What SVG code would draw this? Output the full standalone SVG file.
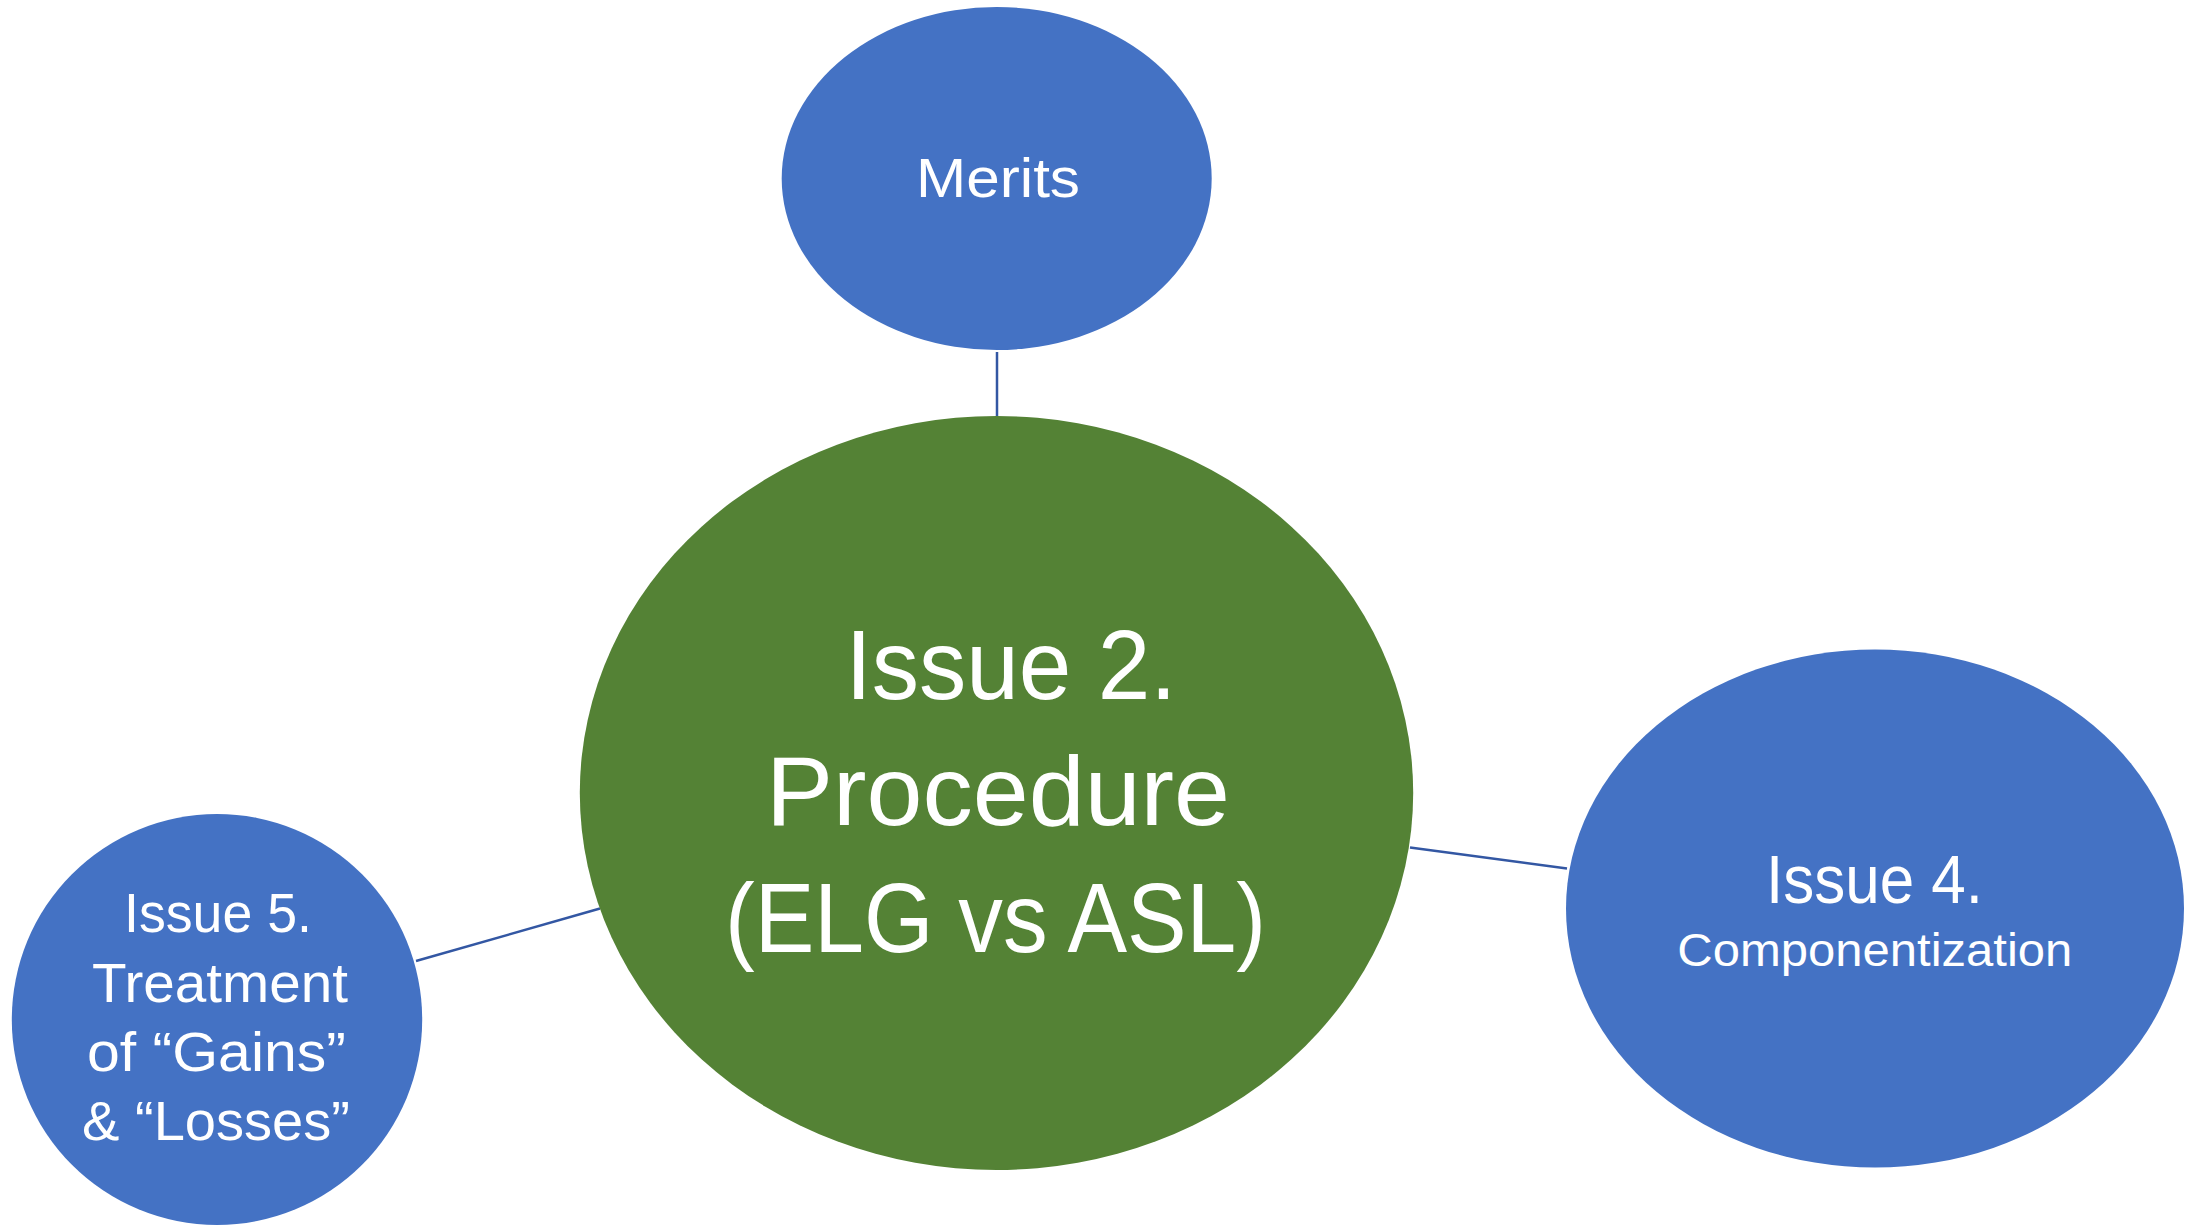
<svg xmlns="http://www.w3.org/2000/svg" width="2191" height="1225" viewBox="0 0 2191 1225">
  <style>
    .blue { fill: #4472C4; }
    .green { fill: #548235; }
    .label { fill: #FFFFFF; font-family: "Liberation Sans", Arial, sans-serif; text-anchor: middle; }
    .link { stroke: #3357A3; stroke-width: 2.5; fill: none; }
  </style>
  <rect x="0" y="0" width="2191" height="1225" fill="#FFFFFF"/>

  <!-- connectors between the hub and the satellites -->
  <g id="connectors">
    <line class="link" x1="997" y1="352" x2="997" y2="416"/>
    <line class="link" x1="1410" y1="847.5" x2="1567" y2="868.5"/>
    <line class="link" x1="416" y1="961" x2="600" y2="908.5"/>
  </g>

  <g id="merits">
    <ellipse class="blue" cx="996.7" cy="178.5" rx="215" ry="171.5"/>
    <text class="label" x="998" y="197" font-size="56" textLength="164" lengthAdjust="spacingAndGlyphs">Merits</text>
  </g>

  <g id="issue2">
    <ellipse class="green" cx="996.5" cy="793" rx="416.7" ry="377"/>
    <text class="label" x="1011" y="699" font-size="99" textLength="331" lengthAdjust="spacingAndGlyphs">Issue 2.</text>
    <text class="label" x="998" y="825" font-size="99" textLength="464" lengthAdjust="spacingAndGlyphs">Procedure</text>
    <text class="label" x="995.5" y="951.5" font-size="99" textLength="541" lengthAdjust="spacingAndGlyphs">(ELG vs ASL)</text>
  </g>

  <g id="issue4">
    <ellipse class="blue" cx="1875" cy="908.6" rx="309" ry="259"/>
    <text class="label" x="1874.5" y="902.5" font-size="69" textLength="217" lengthAdjust="spacingAndGlyphs">Issue 4.</text>
    <text class="label" x="1874.8" y="966" font-size="46" textLength="395" lengthAdjust="spacingAndGlyphs">Componentization</text>
  </g>

  <g id="issue5">
    <ellipse class="blue" cx="217" cy="1019.5" rx="205.2" ry="205.5"/>
    <text class="label" x="218" y="932.3" font-size="55" textLength="188" lengthAdjust="spacingAndGlyphs">Issue 5.</text>
    <text class="label" x="220" y="1001.7" font-size="55" textLength="256" lengthAdjust="spacingAndGlyphs">Treatment</text>
    <text class="label" x="216.5" y="1070.5" font-size="55" textLength="259" lengthAdjust="spacingAndGlyphs">of “Gains”</text>
    <text class="label" x="216" y="1139.5" font-size="55" textLength="268" lengthAdjust="spacingAndGlyphs">&amp; “Losses”</text>
  </g>
</svg>
